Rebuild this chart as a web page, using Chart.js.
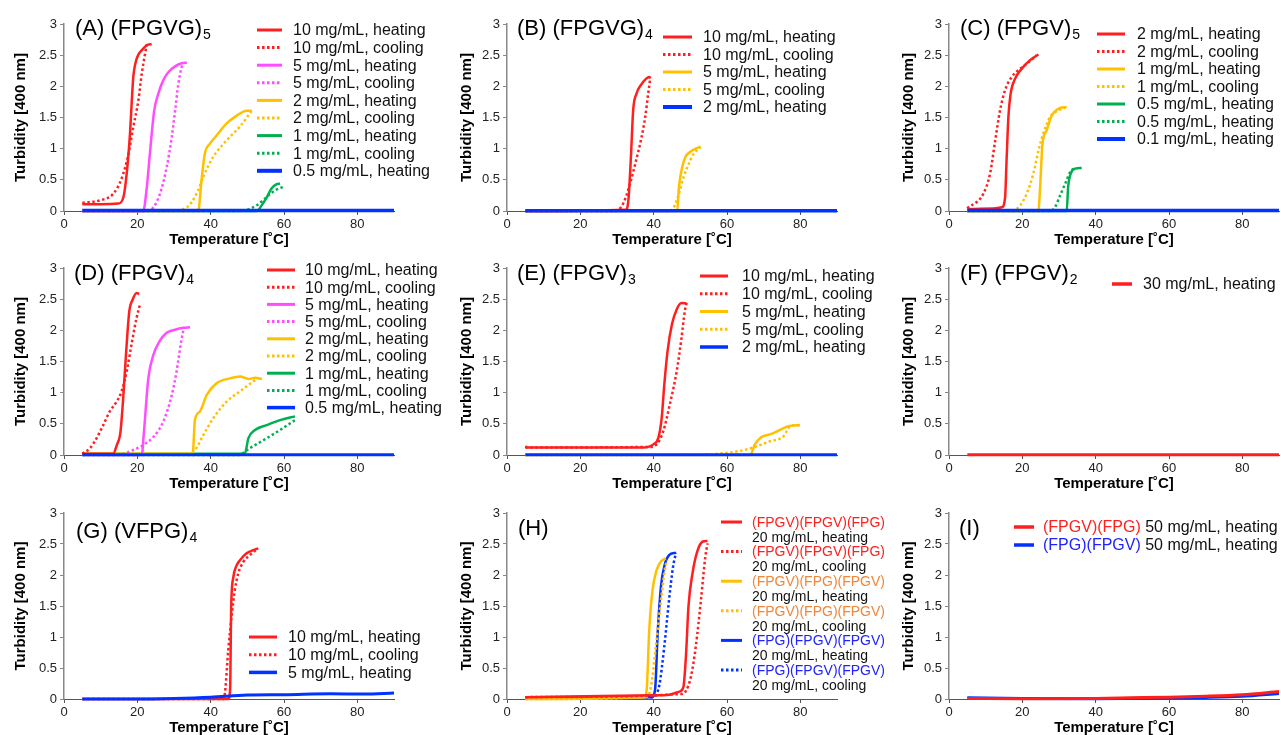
<!DOCTYPE html>
<html>
<head>
<meta charset="utf-8">
<script src="https://cdn.jsdelivr.net/npm/chart.js@4.4.1/dist/chart.umd.min.js"></script>
<style>
  html, body { margin: 0; padding: 0; background: #fff; overflow: hidden; width: 1281px; height: 735px; }
  canvas { position: absolute; }
</style>
</head>
<body>
<script>
// axis ticks
var xTicks = [0, 20, 40, 60, 80];
var yTicks = [0, 0.5, 1, 1.5, 2, 2.5, 3];

// (A) (FPGVG)5  -- [temperature, turbidity]
var aRed10H = [[5, 0.11], [10, 0.11], [14.8, 0.12], [16.2, 0.22], [17.1, 0.6], [18, 1.24], [18.5, 1.78], [18.9, 2.15], [19.8, 2.44], [21.2, 2.58], [22.6, 2.66], [23.9, 2.68]];
var aRed10C = [[5, 0.13], [9.8, 0.17], [13.5, 0.28], [15.7, 0.52], [17.6, 0.92], [18.9, 1.35], [20.3, 1.78], [21.2, 2.2], [22.1, 2.52], [22.6, 2.68]];
var aMag5H = [[5, 0], [21.6, 0], [22.6, 0.39], [23.5, 0.97], [24.6, 1.61], [25.7, 1.88], [27.1, 2.1], [28.5, 2.23], [30.3, 2.32], [32.1, 2.37], [33.5, 2.38]];
var aMag5C = [[5, 0], [22.6, 0], [24.4, 0.06], [26.2, 0.28], [28, 0.7], [29.4, 1.19], [30.3, 1.61], [31.2, 2.04], [32.1, 2.31], [32.6, 2.37]];
var aOr2H = [[5, 0], [36.6, 0], [37.5, 0.49], [38.4, 0.92], [39.8, 1.08], [41.6, 1.21], [44.3, 1.4], [47.1, 1.53], [49.8, 1.61], [51.2, 1.61]];
var aOr2C = [[5, 0], [28.9, 0], [33.5, 0.06], [36.2, 0.28], [38, 0.55], [40.7, 0.87], [44.3, 1.13], [47.9, 1.35], [50.6, 1.56], [51.2, 1.61]];
var aGr1H = [[5, 0], [52.6, 0], [53.9, 0.09], [55.3, 0.22], [56.6, 0.36], [58, 0.43], [58.9, 0.44]];
var aGr1C = [[5, 0], [46.2, 0], [49.8, 0.02], [52.5, 0.09], [55.2, 0.22], [57.5, 0.33], [59.8, 0.385]];
var aBl05H = [[5, 0.01], [30, 0.01], [60, 0.01], [90, 0.01]];
var aLabels = ['10 mg/mL, heating', '10 mg/mL, cooling', '5 mg/mL, heating', '5 mg/mL, cooling', '2 mg/mL, heating', '2 mg/mL, cooling', '1 mg/mL, heating', '1 mg/mL, cooling', '0.5 mg/mL, heating'];

// (B) (FPGVG)4
var bRed10H = [[5, 0], [32.4, 0.02], [33.1, 0.17], [33.8, 0.87], [34.4, 1.61], [35.3, 1.88], [36.5, 2.02], [37.9, 2.12], [38.8, 2.15], [39.2, 2.13]];
var bRed10C = [[5, 0], [29.7, 0], [31.1, 0.06], [32.4, 0.22], [33.8, 0.49], [35.2, 0.81], [36.5, 1.13], [37.7, 1.51], [38.5, 1.88], [39, 2.1]];
var bOr5H = [[5, 0], [46.4, 0], [46.9, 0.39], [47.8, 0.71], [48.7, 0.87], [50, 0.95], [51.4, 1.0], [52.8, 1.03]];
var bOr5C = [[5, 0], [44.2, 0], [45.5, 0.06], [46.9, 0.28], [48.2, 0.55], [49.6, 0.76], [50.9, 0.92], [52.3, 1.0], [52.8, 1.03]];
var bBl2H = [[5, 0.005], [90, 0.005]];
var bLabels = ['10 mg/mL, heating', '10 mg/mL, cooling', '5 mg/mL, heating', '5 mg/mL, cooling', '2 mg/mL, heating'];

// (C) (FPGV)5
var cRed2H = [[5, 0.03], [12.1, 0.04], [14.4, 0.06], [15.3, 0.22], [15.7, 0.81], [16.2, 1.51], [16.8, 1.88], [18, 2.12], [19.8, 2.28], [22.1, 2.42], [24.4, 2.51]];
var cRed2C = [[5, 0.04], [5.3, 0.06], [7.5, 0.14], [9.4, 0.28], [11.2, 0.6], [12.6, 1.13], [13.9, 1.61], [15.3, 1.94], [17.1, 2.15], [18.9, 2.26], [21.2, 2.36], [23.9, 2.5]];
var cOr1H = [[5, 0], [24.4, 0], [24.8, 0.33], [25.5, 1.08], [26.6, 1.29], [28, 1.53], [29.8, 1.64], [32.1, 1.67]];
var cOr1C = [[5, 0], [17.1, 0], [19.4, 0.09], [21.2, 0.28], [23, 0.6], [24.4, 0.97], [25.7, 1.24], [27.6, 1.51], [29.8, 1.61], [31.7, 1.66]];
var cGr05H = [[5, 0], [32.1, 0], [32.5, 0.39], [33.2, 0.6], [34.4, 0.68], [36.2, 0.69]];
var cGr05C = [[5, 0], [27.6, 0], [28.9, 0.06], [30.3, 0.25], [31.7, 0.44], [33.1, 0.63], [34, 0.68]];
var cBl01H = [[5, 0.01], [90, 0.01]];
var cLabels = ['2 mg/mL, heating', '2 mg/mL, cooling', '1 mg/mL, heating', '1 mg/mL, cooling', '0.5 mg/mL, heating', '0.5 mg/mL, heating', '0.1 mg/mL, heating'];

// (D) (FPGV)4
var dRed10H = [[5, 0.02], [13.4, 0.02], [14.4, 0.16], [15.4, 0.37], [16.2, 0.96], [16.9, 1.61], [17.8, 2.3], [18.7, 2.49], [19.8, 2.6], [20.5, 2.58]];
var dRed10C = [[5, 0.02], [7.1, 0.11], [8.9, 0.27], [10.7, 0.48], [12.5, 0.7], [14.4, 0.86], [15.7, 1.02], [17.1, 1.34], [18.4, 1.77], [19.8, 2.2], [20.7, 2.41]];
var dMag5H = [[5, 0], [21.2, 0], [21.8, 0.37], [23, 1.23], [24.4, 1.61], [26, 1.82], [28, 1.96], [30.3, 2.01], [32.6, 2.04], [34.4, 2.05]];
var dMag5C = [[5, 0.01], [15.3, 0.01], [18.9, 0.08], [21.6, 0.16], [24.4, 0.29], [27.1, 0.54], [29.4, 0.96], [30.7, 1.34], [32.1, 1.87], [32.7, 2.04]];
var dOr2H = [[5, 0.02], [35.1, 0.02], [35.7, 0.56], [37.1, 0.7], [38.9, 0.96], [41.6, 1.15], [45.3, 1.23], [48, 1.26], [50.3, 1.22], [52.1, 1.24], [54, 1.22]];
var dOr2C = [[5, 0.02], [33.5, 0.02], [35.7, 0.08], [38, 0.32], [40.7, 0.59], [44.4, 0.86], [48, 1.02], [51.6, 1.18], [53, 1.23]];
var dGr1H = [[5, 0.03], [7, 0.02], [49.3, 0.02], [50.3, 0.27], [52.1, 0.4], [55.3, 0.48], [58.9, 0.56], [63, 0.62]];
var dGr1C = [[5, 0], [47.5, 0], [50.7, 0.11], [55.3, 0.27], [58.9, 0.4], [63, 0.56]];
var dBl05H = [[5, 0.005], [90, 0.005]];
var dLabels = aLabels;

// (E) (FPGV)3
var eRed10H = [[5, 0.14], [5.5, 0.12], [37.2, 0.12], [39.9, 0.17], [41.3, 0.28], [42.2, 0.6], [42.9, 1.13], [43.8, 1.67], [45, 2.1], [46.3, 2.34], [47.6, 2.44], [49, 2.43]];
var eRed10C = [[5, 0.12], [39, 0.13], [40.8, 0.17], [42.6, 0.38], [44.4, 0.81], [46.3, 1.35], [47.6, 1.88], [48.5, 2.31], [49, 2.44]];
var eOr5H = [[5, 0], [66.3, 0], [67.6, 0.17], [69.4, 0.29], [71.7, 0.33], [74.4, 0.4], [76.7, 0.46], [79.9, 0.48]];
var eOr5C = [[5, 0], [52.6, 0.005], [60.8, 0.04], [65.4, 0.09], [68.1, 0.14], [71.7, 0.22], [75.4, 0.3], [76.3, 0.38], [77.2, 0.46], [79.9, 0.48]];
var eBl2H = [[5, 0.005], [90, 0.005]];
var eLabels = bLabels;

// (F) (FPGV)2
var fRed30H = [[5, 0.005], [90, 0.005]];
var fLabels = ['30 mg/mL, heating'];

// (G) (VFPG)4
var gRed10H = [[5, 0], [44.8, 0], [45.3, 0.15], [45.6, 1.49], [46.2, 1.97], [46.9, 2.13], [48, 2.24], [49.8, 2.35], [51.6, 2.4], [53, 2.43]];
var gRed10C = [[5, 0], [43.5, 0], [43.9, 0.1], [44.8, 0.79], [45.7, 1.33], [46.6, 1.76], [47.5, 2.02], [48.9, 2.21], [50.7, 2.32], [52.5, 2.41]];
var gBl5H = [[5, 0], [20, 0], [30, 0.01], [40, 0.03], [50, 0.064], [60, 0.07], [72.7, 0.085], [81.8, 0.08], [90, 0.096]];
var gLabels = ['10 mg/mL, heating', '10 mg/mL, cooling', '5 mg/mL, heating'];

// (H) block peptides, 20 mg/mL
var hRedH = [[5, 0.03], [40, 0.06], [44.2, 0.07], [47, 0.12], [48.1, 0.19], [48.8, 0.69], [49.5, 1.5], [50.6, 2.03], [51.9, 2.38], [53.4, 2.54], [54.7, 2.55]];
var hRedC = [[5, 0.03], [47.4, 0.08], [48.8, 0.13], [50.2, 0.37], [51.5, 0.85], [52.9, 1.6], [54.1, 2.3], [54.7, 2.51]];
var hOrH = [[5, 0], [37.4, 0.03], [38.1, 0.16], [38.8, 1.12], [39.7, 1.76], [40.8, 2.08], [42, 2.22], [43.3, 2.27]];
var hOrC = [[5, 0], [37.9, 0.03], [39.3, 0.21], [40.6, 0.85], [42, 1.6], [43.2, 2.14], [43.8, 2.24]];
var hBlH = [[5, 0.02], [39.5, 0.03], [40.4, 0.16], [41.1, 1.07], [42, 1.82], [42.9, 2.14], [44.2, 2.32], [46.1, 2.36]];
var hBlC = [[5, 0.02], [39.7, 0.03], [41.5, 0.21], [42.9, 0.85], [44.2, 1.6], [45.3, 2.14], [46.1, 2.36]];
var hNames = ['(FPGV)(FPGV)(FPG)', '(FPGV)(FPGV)(FPG)', '(FPGV)(FPG)(FPGV)', '(FPGV)(FPG)(FPGV)', '(FPG)(FPGV)(FPGV)', '(FPG)(FPGV)(FPGV)'];
var hLabels = ['20 mg/mL, heating', '20 mg/mL, cooling', '20 mg/mL, heating', '20 mg/mL, cooling', '20 mg/mL, heating', '20 mg/mL, cooling'];

// (I) 50 mg/mL
var iRedH = [[5, 0.01], [20, 0.005], [40, 0.01], [50, 0.02], [60, 0.03], [70, 0.045], [80, 0.07], [90, 0.12]];
var iBlH = [[5, 0.02], [20, 0.01], [40, 0.005], [60, 0.015], [70, 0.025], [80, 0.045], [90, 0.09]];
var iNames = ['(FPGV)(FPG)', '(FPG)(FPGV)'];
var iLabels = [' 50 mg/mL, heating', ' 50 mg/mL, heating'];

var RED = '#ff1f1f', MAG = '#ff4dff', ORA = '#ffc000', GRN = '#00b050', BLU = '#0033ff';
var DOT = [2.5, 2.5];
var FONT = '"Liberation Sans", Arial, Helvetica, sans-serif';

Chart.defaults.font.family = FONT;

function s(data, color, dotted, width, order) {
  return { data: data, color: color, dash: dotted ? DOT : [], width: width || 2.5, order: order || 0 };
}

function plain(labels) {
  return labels.map(function (t) { return { parts: [[t, '#111']] }; });
}

var panels = [
  { col: 0, row: 0, title: '(A) (FPGVG)', sub: '5', tx: 75, ty: 35,
    series: [s(aRed10H, RED), s(aRed10C, RED, true), s(aMag5H, MAG), s(aMag5C, MAG, true), s(aOr2H, ORA), s(aOr2C, ORA, true), s(aGr1H, GRN), s(aGr1C, GRN, true), s(aBl05H, BLU, false, 3.5, -1)],
    legend: { x1: 257, x2: 282, tx: 293, y: 30, dy: 17.6, size: 16, items: plain(aLabels) } },
  { col: 1, row: 0, title: '(B) (FPGVG)', sub: '4', tx: 87, ty: 35,
    series: [s(bRed10H, RED), s(bRed10C, RED, true), s(bOr5H, ORA), s(bOr5C, ORA, true), s(bBl2H, BLU, false, 3.5, -1)],
    legend: { x1: 233, x2: 262, tx: 273, y: 37, dy: 17.5, size: 16, items: plain(bLabels) } },
  { col: 2, row: 0, title: '(C) (FPGV)', sub: '5', tx: 100, ty: 35,
    series: [s(cRed2H, RED), s(cRed2C, RED, true), s(cOr1H, ORA), s(cOr1C, ORA, true), s(cGr05H, GRN), s(cGr05C, GRN, true), s(cBl01H, BLU, false, 3.5, -1)],
    legend: { x1: 237, x2: 265, tx: 277, y: 34, dy: 17.5, size: 16, items: plain(cLabels) } },
  { col: 0, row: 1, title: '(D) (FPGV)', sub: '4', tx: 74, ty: 35,
    series: [s(dRed10H, RED), s(dRed10C, RED, true), s(dMag5H, MAG), s(dMag5C, MAG, true), s(dOr2H, ORA), s(dOr2C, ORA, true), s(dGr1H, GRN), s(dGr1C, GRN, true), s(dBl05H, BLU, false, 3, -1)],
    legend: { x1: 267, x2: 295, tx: 305, y: 25, dy: 17.2, size: 16, items: plain(dLabels) } },
  { col: 1, row: 1, title: '(E) (FPGV)', sub: '3', tx: 87, ty: 35,
    series: [s(eRed10H, RED), s(eRed10C, RED, true), s(eOr5H, ORA), s(eOr5C, ORA, true), s(eBl2H, BLU, false, 3, -1)],
    legend: { x1: 270, x2: 298, tx: 312, y: 31, dy: 17.75, size: 16, items: plain(eLabels) } },
  { col: 2, row: 1, title: '(F) (FPGV)', sub: '2', tx: 100, ty: 35,
    series: [s(fRed30H, RED, false, 3)],
    legend: { x1: 252, x2: 272, tx: 283, y: 39, dy: 17.5, size: 16, items: plain(fLabels) } },
  { col: 0, row: 2, title: '(G) (VFPG)', sub: '4', tx: 76, ty: 48,
    series: [s(gRed10H, RED), s(gRed10C, RED, true), s(gBl5H, BLU, false, 3, -1)],
    legend: { x1: 249, x2: 277, tx: 288, y: 147, dy: 17.7, size: 16, items: plain(gLabels) } },
  { col: 1, row: 2, title: '(H)', sub: '', tx: 88, ty: 45,
    series: [s(hRedH, RED), s(hRedC, RED, true), s(hOrH, ORA), s(hOrC, ORA, true), s(hBlH, BLU), s(hBlC, BLU, true)],
    legend: { x1: 291, x2: 312, tx: 322, y: 32, dy: 29.6, size: 14, subDy: 15,
      items: hNames.map(function (n, i) {
        return { parts: [[n, ['#ff2020', '#ff2020', '#f0873a', '#f0873a', '#2222ff', '#2222ff'][i]]], sub: hLabels[i] };
      }) } },
  { col: 2, row: 2, title: '(I)', sub: '', tx: 99, ty: 45,
    series: [s(iRedH, RED, false, 3), s(iBlH, BLU, false, 3)],
    legend: { x1: 154, x2: 174, tx: 183, y: 37, dy: 18, size: 16,
      items: [{ parts: [[iNames[0], '#ff2020'], [iLabels[0], '#111']] }, { parts: [[iNames[1], '#2222ff'], [iLabels[1], '#111']] }] } }
];

// title + in-plot legend
var decor = {
  id: 'decor',
  afterDraw: function (chart, args, o) {
    var ctx = chart.ctx;
    ctx.save();
    ctx.fillStyle = '#000';
    ctx.textBaseline = 'alphabetic';
    ctx.font = '22px ' + FONT;
    ctx.fillText(o.title, o.tx, o.ty);
    if (o.sub) {
      var w = ctx.measureText(o.title).width;
      ctx.font = '14px ' + FONT;
      ctx.fillText(o.sub, o.tx + w + 1, o.ty + 4);
    }
    var L = o.legend;
    L.items.forEach(function (it, i) {
      var ds = chart.data.datasets[i];
      var y = L.y + i * L.dy;
      ctx.strokeStyle = ds.borderColor;
      ctx.lineWidth = ds.borderWidth + 0.5;
      ctx.setLineDash(ds.borderDash || []);
      ctx.beginPath();
      ctx.moveTo(L.x1, y);
      ctx.lineTo(L.x2, y);
      ctx.stroke();
      ctx.setLineDash([]);
      ctx.font = L.size + 'px ' + FONT;
      ctx.textBaseline = 'middle';
      var x = L.tx;
      it.parts.forEach(function (p) {
        ctx.fillStyle = p[1];
        ctx.fillText(p[0], x, y + 1);
        x += ctx.measureText(p[0]).width;
      });
      if (it.sub) {
        ctx.fillStyle = '#111';
        ctx.fillText(it.sub, L.tx, y + 1 + L.subDy);
      }
    });
    ctx.restore();
  }
};

var colLeft = [0, 430, 860], colW = [460, 460, 421], rowTop = [0, 245, 490];
var plotLeft = [64, 77, 89], yW = [52, 49, 49];
var plotTop = [24, 23, 23], plotBottom = [211, 210, 209];
var CH = 252, PW = 330, XH = 38;

panels.forEach(function (p) {
  var cv = document.createElement('canvas');
  cv.width = colW[p.col];
  cv.height = CH;
  cv.style.left = colLeft[p.col] + 'px';
  cv.style.top = rowTop[p.row] + 'px';
  document.body.appendChild(cv);

  new Chart(cv, {
    type: 'line',
    data: {
      datasets: p.series.map(function (d) {
        return {
          data: d.data.map(function (q) { return { x: q[0], y: q[1] }; }),
          borderColor: d.color,
          borderWidth: d.width,
          borderDash: d.dash,
          pointRadius: 0,
          fill: false,
          cubicInterpolationMode: 'monotone',
          clip: false,
          order: d.order
        };
      })
    },
    options: {
      responsive: false,
      animation: false,
      events: [],
      layout: {
        padding: {
          left: plotLeft[p.col] - yW[p.col],
          right: colW[p.col] - plotLeft[p.col] - PW,
          top: plotTop[p.row],
          bottom: CH - plotBottom[p.row] - XH
        }
      },
      plugins: {
        legend: { display: false },
        tooltip: { enabled: false },
        decor: { title: p.title, sub: p.sub, tx: p.tx, ty: p.ty, legend: p.legend }
      },
      scales: {
        x: {
          type: 'linear', min: 0, max: 90,
          afterBuildTicks: function (sc) { sc.ticks = xTicks.map(function (v) { return { value: v }; }); },
          afterFit: function (sc) { sc.height = XH; },
          ticks: { font: { size: 13 }, color: '#222', padding: 2, maxRotation: 0, callback: function (v) { return String(v); } },
          grid: { drawOnChartArea: false, tickLength: 4, color: '#555' },
          border: { color: '#555', width: 1 },
          title: { display: true, text: 'Temperature [˚C]', color: '#000', font: { size: 15, weight: 'bold' }, padding: 0 }
        },
        y: {
          min: 0, max: 3,
          afterBuildTicks: function (sc) { sc.ticks = yTicks.map(function (v) { return { value: v }; }); },
          afterFit: function (sc) { sc.width = yW[p.col]; },
          ticks: { font: { size: 13 }, color: '#222', padding: 3, callback: function (v) { return String(v); } },
          grid: { drawOnChartArea: false, tickLength: 4, color: '#888' },
          border: { color: '#888', width: 1.5 },
          title: { display: true, text: 'Turbidity [400 nm]', color: '#000', font: { size: 15, weight: 'bold' }, padding: 0 }
        }
      }
    },
    plugins: [decor]
  });
});
</script>
</body>
</html>
